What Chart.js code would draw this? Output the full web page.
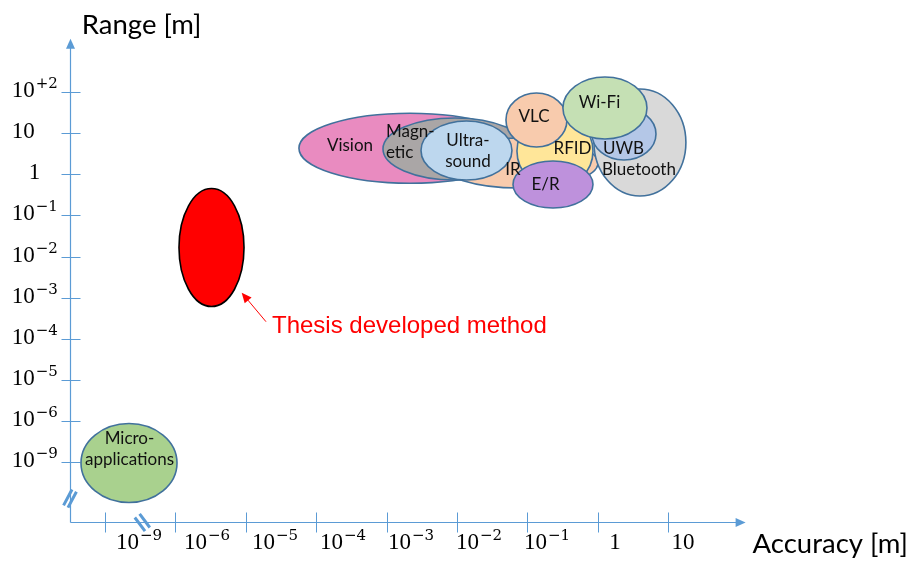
<!DOCTYPE html>
<html>
<head>
<meta charset="utf-8">
<script src="https://cdn.jsdelivr.net/npm/chart.js@4.4.1/dist/chart.umd.min.js"></script>
<style>
  html, body { margin: 0; padding: 0; background: #ffffff; }
  #wrap { width: 911px; height: 561px; }
</style>
</head>
<body>
<div id="wrap"><canvas id="chart" width="911" height="561"></canvas></div>
<script>
// Axis categories: one slot per decade tick (the axes are broken below 10^-6)
const accuracyTicks = ['10^−9', '10^−6', '10^−5', '10^−4', '10^−3', '10^−2', '10^−1', '1', '10'];
const rangeTicks    = ['10^−9', '10^−6', '10^−5', '10^−4', '10^−3', '10^−2', '10^−1', '1', '10', '10^+2'];

// Positioning technologies, listed in drawing order (back to front)
const techNames   = ['Vision', 'Magnetic', 'IR', 'Ultrasound', 'Bluetooth', 'UWB', 'RFID', 'VLC', 'Wi-Fi', 'E/R', 'Micro-applications', 'Thesis method'];
const techLabels  = ['Vision', 'Magn-\netic', 'IR', 'Ultra-\nsound', 'Bluetooth', 'UWB', 'RFID', 'VLC', 'Wi-Fi', 'E/R', 'Micro-\napplications', ''];
// accuracy: centre slot and half-span (slots)
const accCentre   = [4.332, 4.972, 5.881, 5.135, 7.599, 7.372, 6.392, 6.129, 7.102, 6.364, 0.341, 1.513];
const accHalf     = [1.577, 1.023, 1.122, 0.646, 0.653, 0.455, 0.540, 0.433, 0.597, 0.568, 0.682, 0.462];
// range: centre slot and half-span (slots)
const rangeCentre = [7.633, 7.616, 7.275, 7.579, 7.774, 7.981, 7.567, 8.321, 8.613, 6.752, -0.024, 5.219];
const rangeHalf   = [0.852, 0.754, 0.608, 0.718, 1.302, 0.633, 0.900, 0.657, 0.754, 0.572, 0.961, 1.436];
// where each name sits inside its region
const labelAcc    = [3.480, 3.991, 5.795, 5.156, 7.585, 7.365, 6.641, 6.094, 7.024, 6.257, 0.348, 0];
const labelRange  = [7.689, 7.793, 7.129, 7.579, 7.105, 7.640, 7.616, 8.418, 8.759, 6.764, 0.316, 0];
const labelAlign  = ['center', 'left', 'center', 'center', 'center', 'center', 'center', 'center', 'center', 'center', 'center', 'center'];

// Call-out for the thesis method
const noteText     = 'Thesis developed method';
const noteAnchor   = [2.372, 3.309];   // text start
const noteFrom     = [2.287, 3.414];   // arrow tail
const noteTo       = [1.942, 4.119];   // arrow head

// Styling
const techFills = ['#E98BC0', '#AAA6A6', '#F8CBAD', '#BDD7EE', '#D9D9D9', '#B4C7E7', '#FFE699', '#F8CBAD', '#C5E0B4', '#BE91DC', '#A9D18E', '#FF0000'];
const techEdges = ['#41719C', '#41719C', '#41719C', '#41719C', '#41719C', '#41719C', '#41719C', '#41719C', '#41719C', '#41719C', '#41719C', '#000000'];
const AXIS = '#5B9BD5';
const TICK_BASE_FONT = '23px "Liberation Serif"';
const TICK_EXP_FONT = '15px "DejaVu Serif"';
const LABEL_FONT = '17px Lato';
const TITLE_FONT = '27.5px Lato';
const yLabelShift = { '1': 17 };

function drawPower(ctx, text, x, baseline, align) {
  const parts = text.split('^');
  const base = parts[0], exp = parts[1];
  ctx.font = TICK_BASE_FONT;
  const wb = ctx.measureText(base).width;
  let we = 0;
  if (exp) { ctx.font = TICK_EXP_FONT; we = ctx.measureText(exp).width + 1; }
  const left = align === 'center' ? x - (wb + we) / 2 : x;
  ctx.textAlign = 'left';
  ctx.textBaseline = 'alphabetic';
  ctx.font = TICK_BASE_FONT;
  ctx.fillText(base, left, baseline);
  if (exp) {
    ctx.font = TICK_EXP_FONT;
    ctx.fillText(exp, left + wb + 1, baseline - 9);
  }
}

function arrowHead(ctx, tipX, tipY, fromX, fromY, len, half) {
  const a = Math.atan2(tipY - fromY, tipX - fromX);
  const c = Math.cos(a), s = Math.sin(a);
  const bx = tipX - c * len, by = tipY - s * len;
  ctx.beginPath();
  ctx.moveTo(tipX, tipY);
  ctx.lineTo(bx - s * half, by + c * half);
  ctx.lineTo(bx + s * half, by - c * half);
  ctx.closePath();
  ctx.fill();
}

const diagramPlugin = {
  id: 'diagram',
  afterDatasetsDraw(chart) {
    const ctx = chart.ctx;
    const xs = chart.scales.x, ys = chart.scales.y;
    const area = chart.chartArea;
    const px = u => xs.getPixelForValue(u);
    const py = v => ys.getPixelForValue(v);
    ctx.save();

    // ---- axes ----
    const ax = Math.round(area.left) + 0.5;
    const ay = Math.round(area.bottom) + 0.5;
    ctx.strokeStyle = AXIS;
    ctx.fillStyle = AXIS;
    ctx.lineWidth = 1.2;
    ctx.beginPath();
    ctx.moveTo(ax, ay); ctx.lineTo(ax, area.top + 8);
    ctx.moveTo(ax, ay); ctx.lineTo(area.right - 8, ay);
    ctx.stroke();
    arrowHead(ctx, ax, area.top, ax, area.top + 20, 10, 4.5);
    arrowHead(ctx, area.right, ay, area.right - 20, ay, 10, 4.5);

    // tick marks
    ctx.lineWidth = 1;
    ctx.beginPath();
    rangeTicks.forEach((t, i) => {
      const yy = Math.round(py(i)) + 0.5;
      ctx.moveTo(ax - 9, yy); ctx.lineTo(ax + 10, yy);
    });
    accuracyTicks.forEach((t, i) => {
      const xx = Math.round(px(i)) + 0.5;
      ctx.moveTo(xx, ay - 10); ctx.lineTo(xx, ay + 10);
    });
    ctx.stroke();

    // axis breaks
    ctx.lineWidth = 3;
    ctx.lineCap = 'butt';
    const brk = (cx, cy, dx, dy, ox, oy, len) => {
      ctx.beginPath();
      [-1, 1].forEach(k => {
        const mx = cx + k * ox, my = cy + k * oy;
        ctx.moveTo(mx - dx * len / 2, my - dy * len / 2);
        ctx.lineTo(mx + dx * len / 2, my + dy * len / 2);
      });
      ctx.stroke();
    };
    brk(ax - 0.5, py(-0.89), 0.47, -0.88, 2.2, 1.1, 18);
    brk(px(0.53), ay, 0.6, 0.8, 2.4, -1.8, 17);

    // tick labels
    ctx.fillStyle = '#000000';
    rangeTicks.forEach((t, i) => {
      drawPower(ctx, t, area.left - 58 + (yLabelShift[t] || 0), py(i) + 5, 'left');
    });
    accuracyTicks.forEach((t, i) => {
      drawPower(ctx, t, px(0.483 + 0.966 * i), area.bottom + 27.5, 'center');
    });

    // axis titles
    ctx.font = TITLE_FONT;
    ctx.textAlign = 'left';
    ctx.textBaseline = 'alphabetic';
    ctx.fillText('Range [m]', area.left + 12, 34);
    ctx.fillText('Accuracy [m]', area.right + 7, 553);

    // ---- technology regions ----
    techNames.forEach((n, i) => {
      const cx = px(accCentre[i]), cy = py(rangeCentre[i]);
      const rx = Math.abs(px(accCentre[i] + accHalf[i]) - cx);
      const ry = Math.abs(py(rangeCentre[i] + rangeHalf[i]) - cy);
      ctx.beginPath();
      ctx.ellipse(cx, cy, rx, ry, 0, 0, Math.PI * 2);
      ctx.fillStyle = techFills[i];
      ctx.fill();
      ctx.lineWidth = 1.6;
      ctx.strokeStyle = techEdges[i];
      ctx.stroke();
    });

    // names
    ctx.fillStyle = '#111111';
    ctx.font = LABEL_FONT;
    ctx.textBaseline = 'middle';
    techLabels.forEach((lab, i) => {
      if (!lab) return;
      const lines = lab.split('\n');
      const cx = px(labelAcc[i]), cy = py(labelRange[i]);
      const lh = 21;
      ctx.textAlign = labelAlign[i];
      lines.forEach((ln, k) => {
        ctx.fillText(ln, cx, cy + (k - (lines.length - 1) / 2) * lh);
      });
    });

    // call-out
    ctx.strokeStyle = '#FF0000';
    ctx.fillStyle = '#FF0000';
    ctx.lineWidth = 1;
    const fx = px(noteFrom[0]), fy = py(noteFrom[1]);
    const tx = px(noteTo[0]), ty = py(noteTo[1]);
    const ang = Math.atan2(ty - fy, tx - fx);
    ctx.beginPath();
    ctx.moveTo(fx, fy);
    ctx.lineTo(tx - Math.cos(ang) * 8, ty - Math.sin(ang) * 8);
    ctx.stroke();
    arrowHead(ctx, tx, ty, fx, fy, 10, 4.5);
    ctx.font = '24px "Liberation Sans"';
    ctx.textAlign = 'left';
    ctx.textBaseline = 'middle';
    ctx.fillText(noteText, px(noteAnchor[0]), py(noteAnchor[1]));

    ctx.restore();
  }
};

new Chart(document.getElementById('chart'), {
  type: 'scatter',
  data: {
    datasets: [{
      label: 'Technologies',
      data: techNames.map((n, i) => ({ x: accCentre[i], y: rangeCentre[i] })),
      pointRadius: 0,
      pointHoverRadius: 0
    }]
  },
  options: {
    responsive: false,
    animation: false,
    events: [],
    layout: { padding: { left: 69.8, right: 165.4, top: 38.7, bottom: 39.4 } },
    scales: {
      x: { type: 'linear', display: false, min: -0.5, max: 9.1 },
      y: { type: 'linear', display: false, min: -1.45, max: 10.3 }
    },
    plugins: { legend: { display: false }, tooltip: { enabled: false } }
  },
  plugins: [diagramPlugin]
});
</script>
</body>
</html>
